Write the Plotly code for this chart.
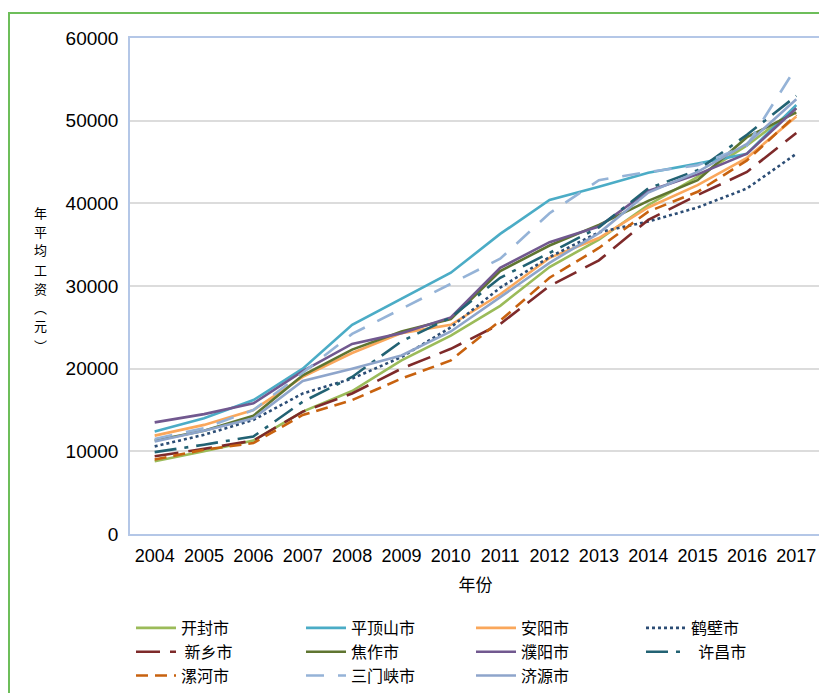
import plotly.graph_objects as go

years = [str(y) for y in range(2004, 2018)]

kaifeng = [8800, 10000, 11300, 14800, 17300, 21000, 24000, 27600, 32300, 35600, 39800, 43200, 47000, 51500]
pingdingshan = [12400, 14000, 16200, 20000, 25300, 28500, 31600, 36300, 40400, 42000, 43700, 44800, 46000, 51900]
anyang = [11900, 13200, 15000, 19000, 21900, 24300, 25300, 29000, 33400, 35800, 39500, 42200, 45500, 50500]
hebi = [10600, 12000, 13800, 17000, 18800, 21400, 25000, 29800, 33500, 36500, 37800, 39500, 41800, 46000]
xinxiang = [9400, 10300, 11300, 14800, 17000, 20000, 22400, 25400, 30000, 33100, 38000, 41000, 43800, 48500]
jiaozuo = [11300, 12500, 14300, 19200, 22300, 24500, 26000, 31800, 34900, 37400, 40300, 42800, 48000, 51000]
puyang = [13500, 14500, 15800, 19700, 23000, 24300, 26200, 32200, 35300, 37200, 41500, 43500, 46000, 51500]
xuchang = [9900, 10800, 11800, 16000, 19000, 23300, 26200, 31000, 34000, 37100, 41800, 44000, 48300, 53000]
luohe = [9000, 10200, 11000, 14400, 16200, 18800, 21000, 25800, 31000, 34600, 39000, 41400, 45200, 50700]
sanmenxia = [11500, 12800, 15000, 19500, 24200, 27200, 30300, 33300, 38800, 42800, 43800, 44600, 47000, 56500]
jiyuan = [11200, 12500, 14000, 18500, 20000, 21600, 24500, 28700, 32800, 36400, 41300, 43800, 47200, 52600]

series = [
    ("开封市", kaifeng, "#9BBB59", "solid"),
    ("平顶山市", pingdingshan, "#4BACC6", "solid"),
    ("安阳市", anyang, "#FAA75B", "solid"),
    ("鹤壁市", hebi, "#2C4D75", "dot"),
    ("\u00a0新乡市", xinxiang, "#7E2A2A", "24px,10px"),
    ("焦作市", jiaozuo, "#5F7530", "solid"),
    ("濮阳市", puyang, "#71588F", "solid"),
    ("\u00a0\u00a0许昌市", xuchang, "#226273", "22px,8px,4px,8px"),
    ("漯河市", luohe, "#C8620F", "12px,7px"),
    ("三门峡市", sanmenxia, "#95B3D7", "18px,14px"),
    ("济源市", jiyuan, "#8EA5CB", "solid"),
]

ytitle_chars = ["年", "平", "均", "工", "资", "︵", "元", "︶"]

fig = go.Figure()
for name, vals, color, dash in series:
    fig.add_trace(go.Scatter(
        x=years, y=vals, name=name, mode="lines",
        line=dict(color=color, width=2.6, dash=dash),
    ))

font_family = "Liberation Sans, Arial, Noto Sans CJK SC"

# figure is drawn 8px in from the page edge (body margin)
W, H = 819, 685
L, R, T, B = 122, 6, 30, 159
PW = W - L - R
PH = H - T - B


def px_x(x):
    return (x - L) / PW


def px_y(y):
    return (H - B - y) / PH


fig.update_layout(
    width=W, height=H,
    paper_bgcolor="white", plot_bgcolor="white",
    margin=dict(l=L, r=R, t=T, b=B, autoexpand=False),
    font=dict(family=font_family, color="#000", size=16),
    showlegend=True,
    legend=dict(
        orientation="h", x=px_x(123), xanchor="left", y=px_y(603), yanchor="top",
        entrywidth=115, entrywidthmode="pixels",
        font=dict(size=16, family="Noto Sans CJK SC, Liberation Sans"),
        tracegroupgap=0, itemwidth=40, bgcolor="rgba(0,0,0,0)",
    ),
    xaxis=dict(
        type="category", range=[-0.5, 13.5],
        showline=True, mirror=True, linecolor="#B4C7E7", linewidth=1.5,
        showgrid=False, ticks="", tickfont=dict(size=18), ticklabelstandoff=5,
        title=dict(text="年份", font=dict(size=17, family="Noto Sans CJK SC"), standoff=14),
    ),
    yaxis=dict(
        range=[0, 60000], dtick=10000, tickformat="d",
        showline=True, mirror=True, linecolor="#B4C7E7", linewidth=1.5,
        showgrid=True, gridcolor="#DCDCDC", gridwidth=2, zeroline=False,
        ticks="", tickfont=dict(size=19), ticklabelstandoff=6,
    ),
)

# vertical (stacked, upright) y-axis title, one character per annotation
for i, ch in enumerate(ytitle_chars):
    fig.add_annotation(
        text=ch, xref="paper", yref="paper",
        x=px_x(32), y=px_y(204 + 19 * i),
        xanchor="center", yanchor="middle", showarrow=False,
        font=dict(size=13, family="Noto Sans CJK SC", color="#000"),
    )

# green outer frame
fig.add_shape(
    type="rect", xref="paper", yref="paper",
    x0=px_x(1), x1=px_x(818),
    y0=px_y(700), y1=px_y(5),
    line=dict(color="#6DBE5A", width=2), fillcolor="rgba(0,0,0,0)",
    layer="below",
)

fig.write_html("out.html")
